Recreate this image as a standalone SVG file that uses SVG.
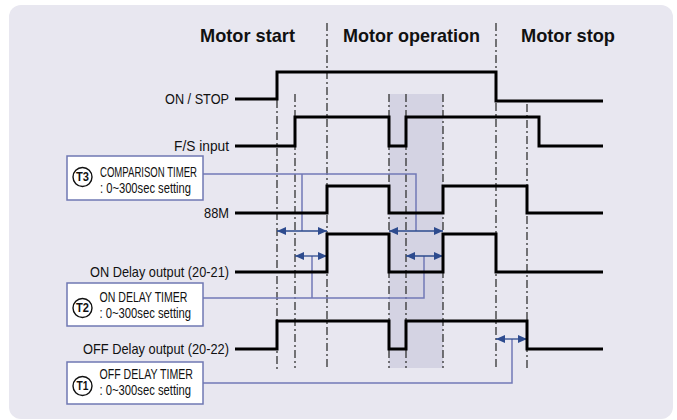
<svg xmlns="http://www.w3.org/2000/svg" width="677" height="420" viewBox="0 0 677 420">
<defs>
<style>
.title{font-family:"Liberation Sans",Arial,sans-serif;font-weight:bold;font-size:19px;fill:#111}
.lbl{font-family:"Liberation Sans",Arial,sans-serif;font-size:15px;fill:#111;text-anchor:end}
.bt{font-family:"Liberation Sans",Arial,sans-serif;font-size:14px;fill:#111}
.ct{font-family:"Liberation Sans",Arial,sans-serif;font-weight:bold;font-size:12px;fill:#111;text-anchor:middle}
.sig{fill:none;stroke:#000;stroke-width:3;stroke-linejoin:miter;stroke-linecap:butt}
.dd{stroke:#333;stroke-width:1.3;stroke-dasharray:8 3 2 3;fill:none}
.box{fill:#fff;stroke:#6f78b3;stroke-width:1.5}
.circ{fill:#fff;stroke:#111;stroke-width:1.4}
.con{fill:none;stroke:#7179b6;stroke-width:1.5}
.arr{stroke:#2d4b8e;stroke-width:1.3;fill:none;marker-start:url(#ah);marker-end:url(#ah)}
</style>
<marker id="ah" markerUnits="userSpaceOnUse" markerWidth="9" markerHeight="8" refX="9" refY="4" orient="auto-start-reverse">
<path d="M0,0 L9,4 L0,8 z" fill="#2d4b8e"/>
</marker>
</defs>
<rect x="9" y="5" width="664" height="414" rx="12" fill="#e8e7f0"/>
<rect x="389" y="94" width="54" height="274" fill="#d4d3e3"/>
<g id="headers">
<text class="title" x="200" y="42" textLength="95" lengthAdjust="spacingAndGlyphs">Motor start</text>
<text class="title" x="343" y="42" textLength="137" lengthAdjust="spacingAndGlyphs">Motor operation</text>
<text class="title" x="521" y="42" textLength="94" lengthAdjust="spacingAndGlyphs">Motor stop</text>
</g>
<g id="guides">
<line class="dd" x1="277" y1="100" x2="277" y2="371"/>
<line class="dd" x1="295" y1="94" x2="295" y2="368"/>
<line class="dd" x1="327" y1="23" x2="327" y2="369"/>
<line class="dd" x1="389" y1="94" x2="389" y2="368"/>
<line class="dd" x1="406" y1="94" x2="406" y2="368"/>
<line class="dd" x1="443" y1="94" x2="443" y2="368"/>
<line class="dd" x1="496" y1="23" x2="496" y2="368"/>
<line class="dd" x1="527" y1="104" x2="527" y2="371"/>
</g>
<g id="connectors">
<path class="con" d="M203,174 H416 V231 M302,174 V231"/>
<path class="con" d="M203,298 H424 V256 M312,298 V256"/>
<path class="con" d="M203,383 H512 V339"/>
<line class="arr" x1="277" y1="231" x2="327" y2="231"/>
<line class="arr" x1="389" y1="231" x2="443" y2="231"/>
<line class="arr" x1="295" y1="256" x2="327" y2="256"/>
<line class="arr" x1="406" y1="256" x2="443" y2="256"/>
<line class="arr" x1="496" y1="339" x2="527" y2="339"/>
</g>
<g id="sig-onstop">
<text class="lbl" x="229" y="103.5" textLength="64" lengthAdjust="spacingAndGlyphs">ON / STOP</text>
<path class="sig" d="M235,99 H277 V72 H496 V101 H603"/>
</g>
<g id="sig-fs">
<text class="lbl" x="229" y="150.5" textLength="55" lengthAdjust="spacingAndGlyphs">F/S  input</text>
<path class="sig" d="M235,146 H295 V117 H389 V146 H406 V117 H539 V146 H603"/>
</g>
<g id="sig-88m">
<text class="lbl" x="229" y="217.5" textLength="25" lengthAdjust="spacingAndGlyphs">88M</text>
<path class="sig" d="M235,213 H327 V186 H389 V213 H443 V186 H527 V213 H603"/>
</g>
<g id="sig-ondelay">
<text class="lbl" x="229" y="276.5" textLength="139" lengthAdjust="spacingAndGlyphs">ON Delay output (20-21)</text>
<path class="sig" d="M235,272 H327 V234 H389 V272 H443 V234 H496 V272 H603"/>
</g>
<g id="sig-offdelay">
<text class="lbl" x="229" y="353.5" textLength="146" lengthAdjust="spacingAndGlyphs">OFF Delay output (20-22)</text>
<path class="sig" d="M235,349 H277 V321 H389 V349 H406 V321 H527 V349 H603"/>
</g>
<g id="timer-t3">
<rect class="box" x="67" y="156" width="136" height="44"/>
<circle class="circ" cx="82.5" cy="177" r="9.5"/>
<text class="ct" x="82.5" y="181.3" textLength="13" lengthAdjust="spacingAndGlyphs">T3</text>
<text class="bt" x="100" y="177" textLength="97" lengthAdjust="spacingAndGlyphs">COMPARISON TIMER</text>
<text class="bt" x="100" y="193" textLength="91" lengthAdjust="spacingAndGlyphs">: 0~300sec setting</text>
</g>
<g id="timer-t2">
<rect class="box" x="67" y="283" width="136" height="43"/>
<circle class="circ" cx="82.5" cy="308" r="9.5"/>
<text class="ct" x="82.5" y="312.3" textLength="13" lengthAdjust="spacingAndGlyphs">T2</text>
<text class="bt" x="99.5" y="302" textLength="88" lengthAdjust="spacingAndGlyphs">ON DELAY TIMER</text>
<text class="bt" x="99.5" y="318" textLength="91.5" lengthAdjust="spacingAndGlyphs">: 0~300sec setting</text>
</g>
<g id="timer-t1">
<rect class="box" x="67" y="362" width="136" height="42"/>
<circle class="circ" cx="82.5" cy="386" r="9.5"/>
<text class="ct" x="82.5" y="390.3" textLength="12" lengthAdjust="spacingAndGlyphs">T1</text>
<text class="bt" x="99.5" y="379" textLength="93.5" lengthAdjust="spacingAndGlyphs">OFF DELAY TIMER</text>
<text class="bt" x="99.5" y="395" textLength="91.5" lengthAdjust="spacingAndGlyphs">: 0~300sec setting</text>
</g>
</svg>
